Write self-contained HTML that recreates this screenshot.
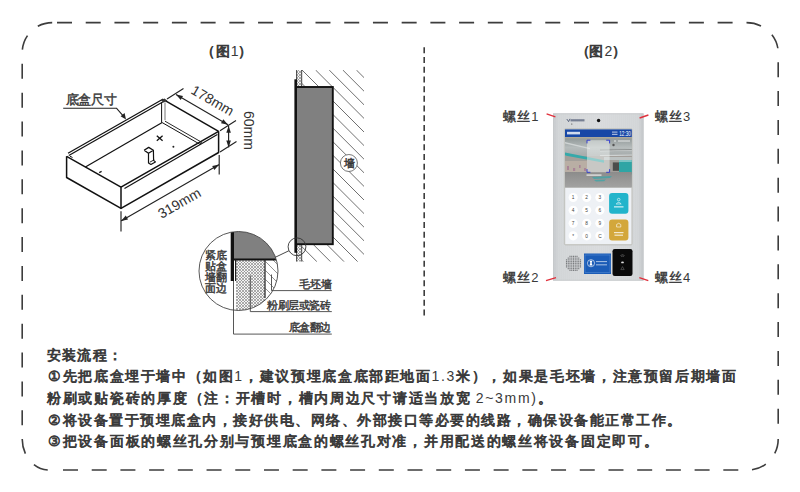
<!DOCTYPE html>
<html><head><meta charset="utf-8"><style>
html,body{margin:0;padding:0;background:#fff;width:800px;height:492px;overflow:hidden}
svg{display:block;font-family:"Liberation Sans",sans-serif}
</style></head><body>
<svg width="800" height="492" viewBox="0 0 800 492">
<line x1="57" y1="22.6" x2="732.6" y2="22.6" stroke="#3d3d3d" stroke-width="1.6" stroke-dasharray="15 13.722"/>
<line x1="63" y1="470" x2="738.3" y2="470" stroke="#3d3d3d" stroke-width="1.6" stroke-dasharray="15 13.709"/>
<line x1="22.2" y1="63.8" x2="22.2" y2="425.3" stroke="#3d3d3d" stroke-width="1.6" stroke-dasharray="15 13.875"/>
<line x1="778.2" y1="62.2" x2="778.2" y2="423.7" stroke="#3d3d3d" stroke-width="1.6" stroke-dasharray="15 13.875"/>
<g fill="none" stroke="#3d3d3d" stroke-width="1.6" stroke-dasharray="15 14 15 20"><path d="M52.2 22.6 A30 30 0 0 0 22.2 52.6"/><path d="M746.5 22.6 A31.7 30 0 0 1 778.2 52.6"/><path d="M778.2 439 A30 31 0 0 1 748.2 470"/><path d="M22.2 439 A27 31 0 0 0 49.2 470"/></g>
<line x1="424.2" y1="47.3" x2="424.2" y2="315.4" stroke="#3d3d3d" stroke-width="1.6" stroke-dasharray="6 3.707"/>
<text x="208.40 222.50 234.70 245.30" y="55.5" font-size="14" fill="#3a3a3a" text-anchor="middle" stroke="#3a3a3a" stroke-width="0.80">（图<tspan stroke="none">1</tspan>）</text>
<text x="582.50 596.30 608.30 619.20" y="55.5" font-size="14" fill="#3a3a3a" text-anchor="middle" stroke="#3a3a3a" stroke-width="0.80">（图<tspan stroke="none">2</tspan>）</text>
<g><path d="M66.6 156.3 L66.6 177.5 L121 208.39999999999998 L218.6 152.5 L218.6 131.3" fill="none" stroke="#111" stroke-width="1.5" stroke-linejoin="round"/><path d="M121 187.2 L121 208.39999999999998" fill="none" stroke="#111" stroke-width="1.5" stroke-linejoin="round"/><path d="M66.6 156.3 L121 187.2 L218.6 131.3" fill="none" stroke="#111" stroke-width="1.5" stroke-linejoin="round"/><path d="M165.2 100.6 L218.6 131.3" fill="none" stroke="#111" stroke-width="1.5" stroke-linejoin="round"/><path d="M68 153.2 L163.2 99" fill="none" stroke="#111" stroke-width="1.25" stroke-linejoin="round"/><path d="M68.8 155.4 L164 101.2" fill="none" stroke="#111" stroke-width="1.2" stroke-linejoin="round"/><path d="M124.5 188.4 L217.4 134.4" fill="none" stroke="#111" stroke-width="1.15" stroke-linejoin="round"/><path d="M161.6 102.5 L161.6 122.6" fill="none" stroke="#111" stroke-width="1.0" stroke-linejoin="round"/><path d="M165 102.5 L165 120.2" fill="none" stroke="#666" stroke-width="0.9" stroke-linejoin="round"/><path d="M160.6 100.2 L164.4 98.4 L167.4 100.4 L163.6 102.6 Z" fill="#333"/><path d="M85.4 166.9 L162.2 122.6" fill="none" stroke="#111" stroke-width="1.2" stroke-linejoin="round"/><path d="M162.2 122.6 L199.8 144.2" fill="none" stroke="#111" stroke-width="1.0" stroke-linejoin="round"/><path d="M165 121.2 L201.5 142.2" fill="none" stroke="#111" stroke-width="0.9" stroke-linejoin="round"/><path d="M199.8 144.2 L201.5 142.2" fill="none" stroke="#111" stroke-width="0.9" stroke-linejoin="round"/><path d="M156.8 135.8 L162.6 140.8" fill="none" stroke="#111" stroke-width="1.3" stroke-linejoin="round"/><path d="M156.8 140.8 L162.6 135.8" fill="none" stroke="#111" stroke-width="1.3" stroke-linejoin="round"/><circle cx="173.4" cy="146.8" r="1" fill="#222"/><path d="M144.1 150.3 L148.7 147.4 L153.4 150.3 L148.5 153.3 L144.1 150.3" fill="none" stroke="#111" stroke-width="1.3" stroke-linejoin="round"/><path d="M148.5 153.3 L148.5 163 L150.9 164.4 L155.4 161.9 L153.6 160.4 L153.4 150.3" fill="none" stroke="#111" stroke-width="1.2" stroke-linejoin="round"/><path d="M149.8 162.2 L154.2 159.8" fill="none" stroke="#111" stroke-width="0.9" stroke-linejoin="round"/><path d="M99.2 172.6 L101.6 171.4" fill="none" stroke="#111" stroke-width="1.2" stroke-linejoin="round"/><path d="M70 156.2 L72.5 157.5" fill="none" stroke="#111" stroke-width="1.0" stroke-linejoin="round"/><path d="M63.2 108.2 L116.4 108.2 L123.6 116.4" fill="none" stroke="#222" stroke-width="1.1" stroke-linejoin="round"/><path d="M126 119.6 L120.6 116.2 L124.6 113 Z" fill="#222"/></g>
<text x="72.30 84.90 97.50 110.10" y="104.2" font-size="12.5" fill="#3a3a3a" text-anchor="middle" stroke="#3a3a3a" stroke-width="0.44">底盒尺寸</text>
<defs><clipPath id="hc"><path d="M302 70 H364 V261.8 H302 Z"/></clipPath><pattern id="pl" width="3" height="3" patternUnits="userSpaceOnUse"><rect width="3" height="3" fill="#f4f4f4"/><path d="M0 0 L3 3 M3 0 L0 3" stroke="#8a8a8a" stroke-width="0.7"/></pattern><clipPath id="bc"><circle cx="238.5" cy="271" r="39.5"/></clipPath><clipPath id="bch"><path d="M265.5 259.5 H280 V315 H265.5 Z"/></clipPath></defs><path clip-path="url(#hc)" d="M84.4 70 L276.2 261.8 M98.0 70 L289.8 261.8 M111.6 70 L303.4 261.8 M125.2 70 L317.0 261.8 M138.8 70 L330.6 261.8 M152.4 70 L344.2 261.8 M166.0 70 L357.8 261.8 M179.6 70 L371.4 261.8 M193.2 70 L385.0 261.8 M206.8 70 L398.6 261.8 M220.4 70 L412.2 261.8 M234.0 70 L425.8 261.8 M247.6 70 L439.4 261.8 M261.2 70 L453.0 261.8 M274.8 70 L466.6 261.8 M288.4 70 L480.2 261.8 M302.0 70 L493.8 261.8 M315.6 70 L507.4 261.8 M329.2 70 L521.0 261.8 M342.8 70 L534.6 261.8 M356.4 70 L548.2 261.8 M370.0 70 L561.8 261.8" stroke="#606060" stroke-width="0.9" fill="none"/><rect x="296.5" y="70.2" width="5.2" height="16.6" fill="url(#pl)"/><rect x="296.5" y="244.5" width="5.2" height="17" fill="url(#pl)"/><path d="M296.6 70 V86.5 M301.7 70 V86.5 M296.6 245 V261.5 M301.7 245 V261.5" stroke="#333" stroke-width="0.9"/><rect x="296" y="87" width="36.8" height="157.2" fill="#808080" stroke="#111" stroke-width="1.9"/><rect x="294.4" y="79.3" width="2.6" height="173.5" fill="#111"/><circle cx="348.9" cy="163" r="8.5" fill="#fff" stroke="#555" stroke-width="0.8"/>
<text x="349.30" y="167.4" font-size="11" fill="#333" text-anchor="middle" stroke="#333" stroke-width="0.44">墙</text>
<circle cx="297" cy="246.8" r="8.9" fill="none" stroke="#333" stroke-width="0.9"/>
<line x1="274.6" y1="257.6" x2="289" y2="250.7" stroke="#333" stroke-width="0.9"/>
<g clip-path="url(#bc)"><rect x="195" y="225" width="90" height="95" fill="#fff"/><rect x="232" y="225" width="50" height="35" fill="#808080"/><rect x="236" y="260.3" width="29.2" height="60" fill="url(#pl)"/><path clip-path="url(#bch)" d="M236.5 259.5 L292.0 315 M245.5 259.5 L301.0 315 M254.5 259.5 L310.0 315 M263.5 259.5 L319.0 315 M272.5 259.5 L328.0 315 M281.5 259.5 L337.0 315 M290.5 259.5 L346.0 315 M299.5 259.5 L355.0 315 M308.5 259.5 L364.0 315" stroke="#777" stroke-width="0.8" fill="none"/><path d="M234 259.5 H282" stroke="#111" stroke-width="1.8"/><rect x="230.7" y="225" width="3.3" height="56" fill="#111"/><path d="M235.6 259.5 V281 M265 259.5 V298" stroke="#222" stroke-width="1.2"/></g><circle cx="238.5" cy="271" r="39.5" fill="none" stroke="#444" stroke-width="0.9"/><path d="M271.5 274.5 V290.6 H331.8 M250.3 275.4 V311.6 H331.8 M233.5 281 V334.1 H331.8" fill="none" stroke="#444" stroke-width="0.9"/>
<text x="210.20 221.60" y="258.6" font-size="11" fill="#3a3a3a" text-anchor="middle" stroke="#3a3a3a" stroke-width="0.44">紧底</text>
<text x="210.20 221.60" y="269.65000000000003" font-size="11" fill="#3a3a3a" text-anchor="middle" stroke="#3a3a3a" stroke-width="0.44">贴盒</text>
<text x="210.20 221.60" y="280.70000000000005" font-size="11" fill="#3a3a3a" text-anchor="middle" stroke="#3a3a3a" stroke-width="0.44">墙翻</text>
<text x="210.20 221.60" y="291.75" font-size="11" fill="#3a3a3a" text-anchor="middle" stroke="#3a3a3a" stroke-width="0.44">面边</text>
<text x="304.90 315.45 326.00" y="288.3" font-size="11" fill="#3a3a3a" text-anchor="middle" stroke="#3a3a3a" stroke-width="0.44">毛坯墙</text>
<text x="272.70 283.25 293.80 304.35 314.90 325.45" y="309.2" font-size="11" fill="#3a3a3a" text-anchor="middle" stroke="#3a3a3a" stroke-width="0.44">粉刷层或瓷砖</text>
<text x="294.10 304.65 315.20 325.75" y="331.1" font-size="11" fill="#3a3a3a" text-anchor="middle" stroke="#3a3a3a" stroke-width="0.44">底盒翻边</text>
<path d="M167 99 L183.5 88.5 M220 130.7 L236 120.4 M176 94.5 L228 124.7" stroke="#222" stroke-width="1.15" fill="none"/><path d="M176.0 94.5 L183.0 95.9 L180.7 99.9 Z" fill="#222"/><path d="M228.0 124.7 L221.0 123.3 L223.3 119.3 Z" fill="#222"/><path d="M220 152 L236.5 141.5 M228.6 126 V147.4" stroke="#222" stroke-width="1.15" fill="none"/><path d="M228.6 126.0 L230.9 132.8 L226.3 132.8 Z" fill="#222"/><path d="M228.6 147.4 L226.3 140.6 L230.9 140.6 Z" fill="#222"/><path d="M121 211.2 V231.5 M219.2 155 V174.6 M121 221 L219.2 164.6" stroke="#222" stroke-width="1.15" fill="none"/><path d="M121.0 221.0 L125.8 215.6 L128.0 219.6 Z" fill="#222"/><path d="M219.2 164.6 L214.4 170.0 L212.2 166.0 Z" fill="#222"/>
<text x="0" y="0" font-size="14" fill="#333" transform="translate(190,93) rotate(30)">178mm</text>
<text x="0" y="0" font-size="14" fill="#333" transform="translate(243.6,111) rotate(90)">60mm</text>
<text x="0" y="0" font-size="14" fill="#333" transform="translate(161.6,219) rotate(-30)">319mm</text>
<defs><linearGradient id="pg" x1="0" y1="0" x2="1" y2="0"><stop offset="0" stop-color="#c6c9cc"/><stop offset="0.06" stop-color="#d2d5d7"/><stop offset="0.5" stop-color="#d8dadc"/><stop offset="0.94" stop-color="#d2d5d7"/><stop offset="1" stop-color="#c2c5c8"/></linearGradient><pattern id="br" width="2" height="4" patternUnits="userSpaceOnUse"><rect width="2" height="4" fill="none"/><rect width="0.6" height="4" fill="#fff" opacity="0.07"/></pattern><linearGradient id="ph" x1="0" y1="0" x2="0" y2="1"><stop offset="0" stop-color="#9fa5a6"/><stop offset="0.15" stop-color="#c8cccc"/><stop offset="0.35" stop-color="#b9bfc0"/><stop offset="0.45" stop-color="#6fb5b5"/><stop offset="0.55" stop-color="#a9a6a2"/><stop offset="0.7" stop-color="#8f8d8c"/><stop offset="0.85" stop-color="#a3a3a3"/><stop offset="1" stop-color="#8d8f90"/></linearGradient><pattern id="sp" width="2" height="2" patternUnits="userSpaceOnUse"><rect width="2" height="2" fill="#d8dadc"/><circle cx="1" cy="1" r="0.55" fill="#77797c"/></pattern></defs><rect x="553.2" y="113.4" width="90.3" height="167.2" fill="url(#pg)"/><rect x="553.2" y="113.4" width="90.3" height="167.2" fill="url(#br)"/><rect x="553.6" y="113.8" width="89.5" height="166.4" fill="none" stroke="#c3c6c9" stroke-width="0.8"/><path d="M546.6 113.8 L555.4 116.8 M648.4 115 L639.6 118 M546 280.6 L556 277.6 M639.3 277.6 L648.3 280.6" stroke="#e0303c" stroke-width="1.4"/><path d="M566.8 119 L568.6 121.6 L570 118.8" stroke="#2d3a5a" stroke-width="0.7" fill="none"/><rect x="570.5" y="119.2" width="14" height="2.2" fill="#56607a" opacity="0.75"/><circle cx="571.8" cy="124" r="0.6" fill="#444"/><circle cx="598.6" cy="120.5" r="1.7" fill="#111"/><rect x="564.4" y="128.6" width="67.8" height="116.4" rx="1.2" fill="#cfd0cc" stroke="#b9bab6" stroke-width="0.6"/><rect x="565" y="129.4" width="66.8" height="7.9" fill="#1747a6"/><rect x="567" y="131.8" width="13" height="2.6" fill="#fff" opacity="0.8"/><rect x="612" y="131.5" width="5.5" height="1.2" fill="#fff" opacity="0.6"/><rect x="612" y="133.8" width="5.5" height="1.2" fill="#fff" opacity="0.6"/><text x="619.3" y="136" font-size="7.6" fill="#fff" textLength="11.5" lengthAdjust="spacingAndGlyphs">12:30</text><defs><linearGradient id="ce" x1="0" y1="0" x2="0" y2="1"><stop offset="0" stop-color="#8e9696"/><stop offset="0.6" stop-color="#b6bcbc"/><stop offset="1" stop-color="#a8aeae"/></linearGradient><linearGradient id="fl" x1="0" y1="0" x2="0" y2="1"><stop offset="0" stop-color="#8c8c8b"/><stop offset="1" stop-color="#a2a2a1"/></linearGradient></defs><rect x="565" y="137.3" width="66.8" height="50" fill="#a9adad"/><rect x="565" y="137.3" width="66.8" height="17" fill="url(#ce)"/><rect x="565" y="137.3" width="66.8" height="1" fill="#b8ae98"/><path d="M565 142 L590 148 L590 149.2 L565 143.4 Z M600 150 L631.8 148.8 V150.4 L600 151.6 Z M600 155 L631.8 154.4 V155.6 L600 156.4 Z" fill="#d8dcdc" opacity="0.8"/><path d="M600 149.6 L631.8 149 V150 L600 150.8 Z" fill="#6f7474" opacity="0.7"/><rect x="565" y="156" width="66.8" height="16.5" fill="#a39f9a"/><path d="M565 152.6 L604 160.2 L604 162.8 L565 155.6 Z" fill="#35a9aa"/><rect x="565" y="161" width="22" height="11" fill="#b9aea4"/><path d="M567 166 h2 v4 h-2z M573 168 h2.2 v3 h-2.2z M579 165 h1.6 v3 h-1.6z M584 168 h2 v3 h-2z" fill="#9a5a8a" opacity="0.5"/><rect x="604" y="157" width="27.8" height="3" fill="#bcc2c2"/><rect x="619" y="160" width="12.8" height="14.5" fill="#2fa5a5"/><rect x="619" y="160" width="12.8" height="2" fill="#7cc4c4"/><rect x="612.8" y="162.4" width="6.2" height="8.4" fill="#4c4c4a"/><rect x="565" y="172" width="66.8" height="15.3" fill="url(#fl)"/><rect x="587" y="140.2" width="22.6" height="32.1" fill="#eef1ef" opacity="0.5"/><path d="M587 143.4 V140.2 H590.4 M606.2 140.2 H609.6 V143.4 M587 169.1 V172.3 H590.4 M606.2 172.3 H609.6 V169.1" stroke="#2833d0" stroke-width="0.9" fill="none"/><rect x="586.5" y="174.4" width="15" height="1.4" fill="#f4f4f4" opacity="0.8"/><path d="M592 177 L612 176 L610 178 L594 179 Z M594 180 L606 179.5 L604 181.2 L596 181.4 Z" fill="#3aa5a8" opacity="0.75"/><path d="M614 140.6 h2 v1 h-2z M618 140.4 h12 v1.2 h-12z" fill="#f4f4f4" opacity="0.85"/><circle cx="613.5" cy="145" r="1.2" fill="#555"/><rect x="565.3" y="188" width="66" height="56" fill="#eef1f5"/><circle cx="573.2" cy="197.5" r="4.6" fill="#fff"/><circle cx="586.7" cy="197.5" r="4.6" fill="#fff"/><circle cx="599.9" cy="197.5" r="4.6" fill="#fff"/><circle cx="573.2" cy="210.3" r="4.6" fill="#fff"/><circle cx="586.7" cy="210.3" r="4.6" fill="#fff"/><circle cx="599.9" cy="210.3" r="4.6" fill="#fff"/><circle cx="573.2" cy="223.3" r="4.6" fill="#fff"/><circle cx="586.7" cy="223.3" r="4.6" fill="#fff"/><circle cx="599.9" cy="223.3" r="4.6" fill="#fff"/><circle cx="573.2" cy="235.8" r="4.6" fill="#fff"/><circle cx="586.7" cy="235.8" r="4.6" fill="#fff"/><circle cx="599.9" cy="235.8" r="4.6" fill="#fff"/><text x="573.2" y="199.4" font-size="4.8" fill="#444" text-anchor="middle">1</text><text x="586.7" y="199.4" font-size="4.8" fill="#444" text-anchor="middle">2</text><text x="599.9" y="199.4" font-size="4.8" fill="#444" text-anchor="middle">3</text><text x="573.2" y="212.20000000000002" font-size="4.8" fill="#444" text-anchor="middle">4</text><text x="586.7" y="212.20000000000002" font-size="4.8" fill="#444" text-anchor="middle">5</text><text x="599.9" y="212.20000000000002" font-size="4.8" fill="#444" text-anchor="middle">6</text><text x="573.2" y="225.20000000000002" font-size="4.8" fill="#444" text-anchor="middle">7</text><text x="586.7" y="225.20000000000002" font-size="4.8" fill="#444" text-anchor="middle">8</text><text x="599.9" y="225.20000000000002" font-size="4.8" fill="#444" text-anchor="middle">9</text><text x="573.2" y="237.70000000000002" font-size="4.8" fill="#444" text-anchor="middle">*</text><text x="586.7" y="237.70000000000002" font-size="4.8" fill="#444" text-anchor="middle">0</text><text x="599.9" y="237.70000000000002" font-size="4.8" fill="#444" text-anchor="middle">C</text><rect x="609.1" y="192.9" width="19.3" height="20.9" rx="3" fill="#22b4cb"/><rect x="609.1" y="219.6" width="19.3" height="20.8" rx="3" fill="#d3a73b"/><circle cx="618.7" cy="199.6" r="1.3" fill="none" stroke="#fff" stroke-width="0.6"/><path d="M616.2 204 Q618.7 200.8 621.2 204 Z" fill="none" stroke="#fff" stroke-width="0.6"/><rect x="614" y="206.2" width="9.5" height="1.3" fill="#fff" opacity="0.75"/><path d="M616.6 227 V224.5 Q618.7 222 620.8 224.5 V227 H616.6" fill="none" stroke="#fff" stroke-width="0.6"/><rect x="614" y="232" width="9.5" height="1.2" fill="#fff" opacity="0.75"/><rect x="614.5" y="234.6" width="8.5" height="1.2" fill="#fff" opacity="0.75"/><path d="M569.45 255.85h1.1v1.1h-1.1zM571.20 255.85h1.1v1.1h-1.1zM572.95 255.85h1.1v1.1h-1.1zM574.70 255.85h1.1v1.1h-1.1zM576.45 255.85h1.1v1.1h-1.1zM567.70 257.60h1.1v1.1h-1.1zM569.45 257.60h1.1v1.1h-1.1zM571.20 257.60h1.1v1.1h-1.1zM572.95 257.60h1.1v1.1h-1.1zM574.70 257.60h1.1v1.1h-1.1zM576.45 257.60h1.1v1.1h-1.1zM578.20 257.60h1.1v1.1h-1.1zM565.95 259.35h1.1v1.1h-1.1zM567.70 259.35h1.1v1.1h-1.1zM569.45 259.35h1.1v1.1h-1.1zM571.20 259.35h1.1v1.1h-1.1zM572.95 259.35h1.1v1.1h-1.1zM574.70 259.35h1.1v1.1h-1.1zM576.45 259.35h1.1v1.1h-1.1zM578.20 259.35h1.1v1.1h-1.1zM579.95 259.35h1.1v1.1h-1.1zM565.95 261.10h1.1v1.1h-1.1zM567.70 261.10h1.1v1.1h-1.1zM569.45 261.10h1.1v1.1h-1.1zM571.20 261.10h1.1v1.1h-1.1zM572.95 261.10h1.1v1.1h-1.1zM574.70 261.10h1.1v1.1h-1.1zM576.45 261.10h1.1v1.1h-1.1zM578.20 261.10h1.1v1.1h-1.1zM579.95 261.10h1.1v1.1h-1.1zM565.95 262.85h1.1v1.1h-1.1zM567.70 262.85h1.1v1.1h-1.1zM569.45 262.85h1.1v1.1h-1.1zM571.20 262.85h1.1v1.1h-1.1zM572.95 262.85h1.1v1.1h-1.1zM574.70 262.85h1.1v1.1h-1.1zM576.45 262.85h1.1v1.1h-1.1zM578.20 262.85h1.1v1.1h-1.1zM579.95 262.85h1.1v1.1h-1.1zM565.95 264.60h1.1v1.1h-1.1zM567.70 264.60h1.1v1.1h-1.1zM569.45 264.60h1.1v1.1h-1.1zM571.20 264.60h1.1v1.1h-1.1zM572.95 264.60h1.1v1.1h-1.1zM574.70 264.60h1.1v1.1h-1.1zM576.45 264.60h1.1v1.1h-1.1zM578.20 264.60h1.1v1.1h-1.1zM579.95 264.60h1.1v1.1h-1.1zM565.95 266.35h1.1v1.1h-1.1zM567.70 266.35h1.1v1.1h-1.1zM569.45 266.35h1.1v1.1h-1.1zM571.20 266.35h1.1v1.1h-1.1zM572.95 266.35h1.1v1.1h-1.1zM574.70 266.35h1.1v1.1h-1.1zM576.45 266.35h1.1v1.1h-1.1zM578.20 266.35h1.1v1.1h-1.1zM579.95 266.35h1.1v1.1h-1.1zM567.70 268.10h1.1v1.1h-1.1zM569.45 268.10h1.1v1.1h-1.1zM571.20 268.10h1.1v1.1h-1.1zM572.95 268.10h1.1v1.1h-1.1zM574.70 268.10h1.1v1.1h-1.1zM576.45 268.10h1.1v1.1h-1.1zM578.20 268.10h1.1v1.1h-1.1zM569.45 269.85h1.1v1.1h-1.1zM571.20 269.85h1.1v1.1h-1.1zM572.95 269.85h1.1v1.1h-1.1zM574.70 269.85h1.1v1.1h-1.1zM576.45 269.85h1.1v1.1h-1.1z" fill="#7a7c7f"/><rect x="584" y="253.5" width="27" height="20.5" fill="#1b5cb7"/><rect x="585" y="255" width="25" height="17.5" fill="none" stroke="#5d8fd6" stroke-width="0.5"/><circle cx="591" cy="263.2" r="3.6" fill="none" stroke="#fff" stroke-width="0.6"/><path d="M589.6 260.8 H592.4 L591.6 263 L592.6 265.6 H589.4 L590.4 263 Z" fill="#fff"/><rect x="596" y="261.2" width="11" height="0.9" fill="#fff" opacity="0.7"/><rect x="596" y="264.4" width="11" height="0.9" fill="#fff" opacity="0.7"/><rect x="612.5" y="249" width="20" height="27" rx="2.2" fill="#0a0a0a"/><path d="M620.4 255.6 Q622.5 253.8 624.6 255.6 M621.2 256.6 Q622.5 255.6 623.8 256.6" stroke="#888" stroke-width="0.5" fill="none"/><ellipse cx="622.5" cy="262.4" rx="1.4" ry="0.9" fill="#ddd"/><path d="M620.8 269.6 L622.5 266.6 L624.2 269.6 Z" fill="none" stroke="#777" stroke-width="0.5"/>
<text x="509.20 523.60 534.81" y="120.8" font-size="13" fill="#3a3a3a" text-anchor="middle" stroke="#3a3a3a" stroke-width="0.44">螺丝<tspan stroke="none">1</tspan></text>
<text x="661.00 675.40 686.61" y="120.8" font-size="13" fill="#3a3a3a" text-anchor="middle" stroke="#3a3a3a" stroke-width="0.44">螺丝<tspan stroke="none">3</tspan></text>
<text x="509.20 523.60 534.81" y="282.4" font-size="13" fill="#3a3a3a" text-anchor="middle" stroke="#3a3a3a" stroke-width="0.44">螺丝<tspan stroke="none">2</tspan></text>
<text x="661.00 675.40 686.61" y="282.4" font-size="13" fill="#3a3a3a" text-anchor="middle" stroke="#3a3a3a" stroke-width="0.44">螺丝<tspan stroke="none">4</tspan></text>
<text x="54.05 69.25 84.45 99.65 114.85" y="359.6" font-size="14" fill="#3a3a3a" text-anchor="middle" stroke="#3a3a3a" stroke-width="0.80">安装流程：</text>
<text x="54.05 69.68 85.31 100.94 116.57 132.20 147.83 163.46 179.09 194.72 210.35 225.98 238.25 251.09 266.72 282.35 297.98 313.61 329.24 344.87 360.50 376.13 391.76 407.39 423.02 435.30 442.83 450.37 463.21 478.84 494.47 510.10 525.73 541.36 556.99 572.62 588.25 603.88 619.51 635.14 650.77 666.40 682.03 697.66 713.29 728.92" y="381" font-size="14" fill="#3a3a3a" text-anchor="middle" stroke="#3a3a3a" stroke-width="0.80">①先把底盒埋于墙中（如图<tspan stroke="none">1</tspan>，建议预埋底盒底部距地面<tspan stroke="none">1.3</tspan>米），如果是毛坯墙，注意预留后期墙面</text>
<text x="54.05 69.77 85.49 101.21 116.93 132.65 148.37 164.09 179.81 195.53 211.25 226.97 242.69 258.41 274.13 289.85 305.57 321.29 337.01 352.73 368.45 384.17 399.89 415.61 431.33 447.05 462.77 479.63 489.31 498.99 510.42 523.78 533.64 544.92" y="403" font-size="14" fill="#3a3a3a" text-anchor="middle" stroke="#3a3a3a" stroke-width="0.80">粉刷或贴瓷砖的厚度（注：开槽时，槽内周边尺寸请适当放宽<tspan stroke="none">2~3mm)</tspan>。</text>
<text x="54.05 69.55 85.05 100.55 116.05 131.55 147.05 162.55 178.05 193.55 209.05 224.55 240.05 255.55 271.05 286.55 302.05 317.55 333.05 348.55 364.05 379.55 395.05 410.55 426.05 441.55 457.05 472.55 488.05 503.55 519.05 534.55 550.05 565.55 581.05 596.55 612.05 627.55 643.05 658.55 674.05" y="424.6" font-size="14" fill="#3a3a3a" text-anchor="middle" stroke="#3a3a3a" stroke-width="0.80">②将设备置于预埋底盒内，接好供电、网络、外部接口等必要的线路，确保设备能正常工作。</text>
<text x="54.05 69.75 85.45 101.15 116.85 132.55 148.25 163.95 179.65 195.35 211.05 226.75 242.45 258.15 273.85 289.55 305.25 320.95 336.65 352.35 368.05 383.75 399.45 415.15 430.85 446.55 462.25 477.95 493.65 509.35 525.05 540.75 556.45 572.15 587.85 603.55 619.25 634.95 650.65" y="445.6" font-size="14" fill="#3a3a3a" text-anchor="middle" stroke="#3a3a3a" stroke-width="0.80">③把设备面板的螺丝孔分别与预埋底盒的螺丝孔对准，并用配送的螺丝将设备固定即可。</text>
</svg>
</body></html>
